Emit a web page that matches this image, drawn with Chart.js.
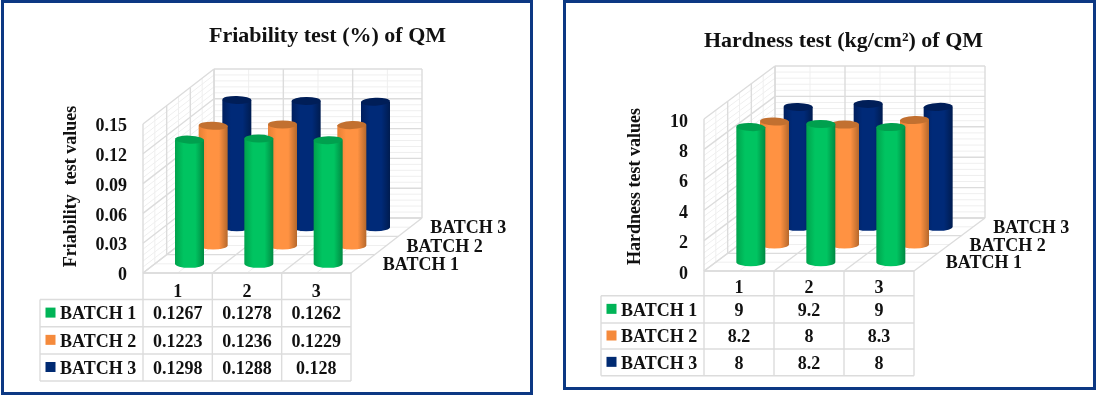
<!DOCTYPE html>
<html>
<head>
<meta charset="utf-8">
<title>Friability and hardness of QM</title>
<script src="https://cdn.jsdelivr.net/npm/chart.js@4"></script>
<style>
    html, body { margin: 0; padding: 0; background: #fff; }
    body { position: relative; width: 1096px; height: 395px; overflow: hidden; }
    .panel { position: absolute; box-sizing: border-box; border: 3px solid #0c3883; background: #fff; }
    #panelA { left: 1px; top: 0; width: 532px; height: 395px; }
    #panelB { left: 563px; top: 0; width: 533px; height: 390px; }
    canvas { position: absolute; top: 0; }
    #friabilityChart { left: 0; }
    #hardnessChart { left: 548px; }
</style>
</head>
<body>
<div class="panel" id="panelA"></div>
<div class="panel" id="panelB"></div>
<canvas id="friabilityChart" width="548" height="395"></canvas>
<canvas id="hardnessChart" width="548" height="395"></canvas>
<script>
// Shared labels
const categories = ['1', '2', '3'];
const batchNames = ['BATCH 1', 'BATCH 2', 'BATCH 3'];

// Friability test values
const friabilityBatch1 = [0.1267, 0.1278, 0.1262];
const friabilityBatch2 = [0.1223, 0.1236, 0.1229];
const friabilityBatch3 = [0.1298, 0.1288, 0.128];
const friabilityTicks = [0, 0.03, 0.06, 0.09, 0.12, 0.15];

// Hardness test values
const hardnessBatch1 = [9, 9.2, 9];
const hardnessBatch2 = [8.2, 8, 8.3];
const hardnessBatch3 = [8, 8.2, 8];
const hardnessTicks = [0, 2, 4, 6, 8, 10];

const SERIF = '"Liberation Serif", "Times New Roman", serif';
const FONT = 'bold 18px ' + SERIF;
const MAJOR = '#dcdcdc';
const MINOR = '#efefef';
// Liberation Serif sits high on a middle baseline
const TEXT_DROP = 1.5;
// lids sit a little under the nominal value line
const LID_DROP = 1.7;

// side, mid, edge shades of each cylinder, plus the colour of its lid
const palette = [
    { swatch: '#00b457', left: '#00a34c', mid: '#00c461', right: '#008a42', lid: '#00a04e' },
    { swatch: '#f58a3c', left: '#e87f35', mid: '#ff9242', right: '#b5682c', lid: '#c27030' },
    { swatch: '#002a72', left: '#001f5e', mid: '#002a78', right: '#001c50', lid: '#001e58' }
];

function line(ctx, x1, y1, x2, y2, color, width) {
    ctx.strokeStyle = color;
    ctx.lineWidth = width;
    ctx.beginPath();
    ctx.moveTo(x1, y1);
    ctx.lineTo(x2, y2);
    ctx.stroke();
}

// Back wall, side wall and floor, placed from the scales
function drawWalls(chart, box) {
    const { ctx, chartArea: area } = chart;
    const y = chart.scales.y;
    const x = chart.scales.x;
    const dx = box.depthX, dy = box.depthY;
    const cell = (area.right - area.left) / x.ticks.length;

    const ticks = y.ticks.map(t => t.value);
    const step = ticks[1] - ticks[0];
    const levels = [];
    ticks.forEach((v, i) => {
        levels.push({ px: y.getPixelForValue(v), major: true });
        if (i < ticks.length - 1) {
            for (let k = 1; k < 5; k++) levels.push({ px: y.getPixelForValue(v + step * k / 5), major: false });
        }
    });

    // minor lines first so the major ones sit on top
    [false, true].forEach(major => {
        const color = major ? MAJOR : MINOR;
        const width = major ? 1.4 : 1;
        levels.filter(l => l.major === major).forEach(l => {
            line(ctx, area.left, l.px, area.left + dx, l.px + dy, color, width);
            line(ctx, area.left + dx, l.px + dy, area.right + dx, l.px + dy, color, width);
        });
        for (let k = 0; k <= 6; k++) {
            if ((k % 2 === 0) !== major) continue;
            const fx = dx * k / 6, fy = dy * k / 6;
            line(ctx, area.left + fx, area.bottom + fy, area.left + fx, area.top + fy, color, width);
            line(ctx, area.left + fx, area.bottom + fy, area.right + fx, area.bottom + fy, color, width);
        }
        for (let k = 0; k <= x.ticks.length * 2; k++) {
            if ((k % 2 === 0) !== major) continue;
            const px = area.left + cell * k / 2;
            line(ctx, px + dx, area.bottom + dy, px + dx, area.top + dy, color, width);
            line(ctx, px, area.bottom, px + dx, area.bottom + dy, color, width);
        }
    });
}

function drawCylinder(ctx, bar, tone, box, offX, offY, tilt) {
    const cx = bar.x + offX;
    const half = bar.width / 2;
    const top = bar.y + offY + LID_DROP;
    const bottom = bar.base + offY;
    const ry = box.lidHeight;

    const grad = ctx.createLinearGradient(cx - half, 0, cx + half, 0);
    grad.addColorStop(0, tone.left);
    grad.addColorStop(0.3, tone.mid);
    grad.addColorStop(0.7, tone.mid);
    grad.addColorStop(1, tone.right);

    ctx.fillStyle = grad;
    ctx.beginPath();
    ctx.moveTo(cx - half, top);
    ctx.lineTo(cx - half, bottom);
    ctx.ellipse(cx, bottom, half, ry, 0, Math.PI, 0, true);
    ctx.lineTo(cx + half, top);
    ctx.closePath();
    ctx.fill();

    ctx.fillStyle = tone.lid;
    ctx.beginPath();
    ctx.ellipse(cx, top, half, ry, tilt, 0, Math.PI * 2);
    ctx.fill();
}

// Data table below the chart, its columns follow the x scale
function drawTable(chart, box, series) {
    const { ctx, chartArea: area } = chart;
    const x = chart.scales.x;
    const cell = (area.right - area.left) / x.ticks.length;
    const rows = box.rowLines;

    line(ctx, area.left, area.bottom, area.right, area.bottom, MAJOR, 1.4);
    rows.forEach(r => line(ctx, box.tableLeft, r, area.right, r, MAJOR, 1.4));
    line(ctx, box.tableLeft, rows[0], box.tableLeft, rows[rows.length - 1], MAJOR, 1.4);
    for (let i = 0; i <= x.ticks.length; i++) {
        const px = area.left + cell * i;
        line(ctx, px, area.bottom, px, rows[rows.length - 1], MAJOR, 1.4);
    }

    ctx.font = FONT;
    ctx.fillStyle = '#111';
    ctx.textBaseline = 'middle';
    series.forEach((values, s) => {
        const mid = (rows[s] + rows[s + 1]) / 2;
        ctx.fillStyle = palette[s].swatch;
        ctx.fillRect(box.swatchLeft, mid - 5.5, 10, 10);
        ctx.fillStyle = '#111';
        ctx.textAlign = 'left';
        ctx.fillText(batchNames[s], box.swatchLeft + 14.5, mid + TEXT_DROP);
        ctx.textAlign = 'center';
        values.forEach((v, i) => ctx.fillText(String(v), x.getPixelForValue(i), mid + TEXT_DROP));
    });
}

const cylinderPlugin = {
    id: 'cylinders',
    beforeDatasetsDraw(chart) {
        drawWalls(chart, chart.options.plugins.cylinders.box);
    },
    // replaces the flat bar with a cylinder pushed back by the batch depth
    beforeDatasetDraw(chart, args) {
        const box = chart.options.plugins.cylinders.box;
        const { chartArea: area } = chart;
        const f = (args.index * 2 + 1) / 6;
        const middle = (area.left + area.right) / 2 + box.depthX / 2;
        args.meta.data.forEach(bar => {
            const p = bar.getProps(['x', 'y', 'base', 'width'], true);
            const tilt = -0.05 * (p.x + box.depthX * f - middle) / 100;
            drawCylinder(chart.ctx, p, palette[args.index], box, box.depthX * f, box.depthY * f, tilt);
        });
        return false;
    },
    afterDraw(chart) {
        const { ctx, chartArea: area } = chart;
        const box = chart.options.plugins.cylinders.box;
        drawTable(chart, box, chart.data.datasets.map(d => d.data));

        // depth axis labels
        ctx.font = FONT;
        ctx.fillStyle = '#111';
        ctx.textAlign = 'left';
        ctx.textBaseline = 'middle';
        batchNames.forEach((name, i) => {
            const f = (i * 2 + 1) / 6;
            ctx.fillText(name, area.right + box.depthLabelX + box.depthX * f, area.bottom + box.depthLabelY + box.depthY * f);
        });

        // value axis title, sits off centre in the original
        ctx.save();
        ctx.translate(box.yTitleX, box.yTitleY);
        ctx.rotate(-Math.PI / 2);
        ctx.textAlign = 'center';
        ctx.fillText(box.yTitle, 0, 0);
        ctx.restore();
    }
};

function makeChart(id, title, yTitle, series, ticks, box) {
    const width = 548, height = 395;
    return new Chart(document.getElementById(id), {
        type: 'bar',
        plugins: [cylinderPlugin, {
            id: 'titleShift',
            afterLayout(chart) {
                chart.titleBlock.left = box.titleX - 200;
                chart.titleBlock.right = box.titleX + 200;
            }
        }],
        data: {
            labels: categories,
            datasets: series.map((values, i) => ({
                label: batchNames[i],
                data: values,
                backgroundColor: palette[i].swatch,
                barThickness: box.barWidth,
                grouped: false
            }))
        },
        options: {
            responsive: false,
            animation: false,
            events: [],
            layout: {
                padding: { left: 0, top: 0, right: width - box.right, bottom: height - box.bottom - 40 }
            },
            plugins: {
                legend: { display: false },
                tooltip: { enabled: false },
                title: {
                    display: true,
                    text: title,
                    color: '#111',
                    font: { family: SERIF, size: 22, weight: 'bold', lineHeight: 1.2 },
                    padding: { top: box.titleY - 13.2, bottom: box.top - box.titleY - 13.2 }
                },
                cylinders: { box: Object.assign({ yTitle: yTitle }, box) }
            },
            scales: {
                x: {
                    grid: { display: false, drawTicks: false },
                    border: { display: false },
                    ticks: { color: '#111', padding: box.xTickPad, maxRotation: 0, font: { family: SERIF, size: 18, weight: 'bold' } },
                    afterFit(scale) { scale.height = 40; }
                },
                y: {
                    min: ticks[0],
                    max: ticks[ticks.length - 1],
                    afterBuildTicks(scale) { scale.ticks = ticks.map(v => ({ value: v })); },
                    grid: { display: false, drawTicks: false },
                    border: { display: false },
                    ticks: {
                        color: '#111',
                        padding: 16,
                        labelOffset: box.yLabelDrop,
                        font: { family: SERIF, size: 18, weight: 'bold' },
                        callback: value => String(value)
                    },
                    afterFit(scale) { scale.width = box.left; }
                }
            }
        }
    });
}

makeChart('friabilityChart', 'Friability test (%) of QM', 'Friability  test values',
    [friabilityBatch1, friabilityBatch2, friabilityBatch3], friabilityTicks, {
        left: 143, right: 351, top: 124, bottom: 273,
        depthX: 71, depthY: -55, barWidth: 29, lidHeight: 4,
        titleX: 327.5, titleY: 36, yTitleX: 71.5, yTitleY: 186.5, xTickPad: 9, yLabelDrop: 2.5,
        tableLeft: 40, swatchLeft: 45.5, rowLines: [299.5, 326.7, 354, 381],
        depthLabelX: 20, depthLabelY: 1.5
    });

makeChart('hardnessChart', 'Hardness test (kg/cm²) of QM', 'Hardness test values',
    [hardnessBatch1, hardnessBatch2, hardnessBatch3], hardnessTicks, {
        left: 156, right: 366, top: 119, bottom: 271,
        depthX: 71, depthY: -53, barWidth: 29, lidHeight: 4,
        titleX: 295.5, titleY: 41, yTitleX: 87.5, yTitleY: 186.5, xTickPad: 7, yLabelDrop: 3,
        tableLeft: 53, swatchLeft: 58.5, rowLines: [295.7, 323, 349, 375.7],
        depthLabelX: 20, depthLabelY: 1.5
    });
</script>
</body>
</html>
